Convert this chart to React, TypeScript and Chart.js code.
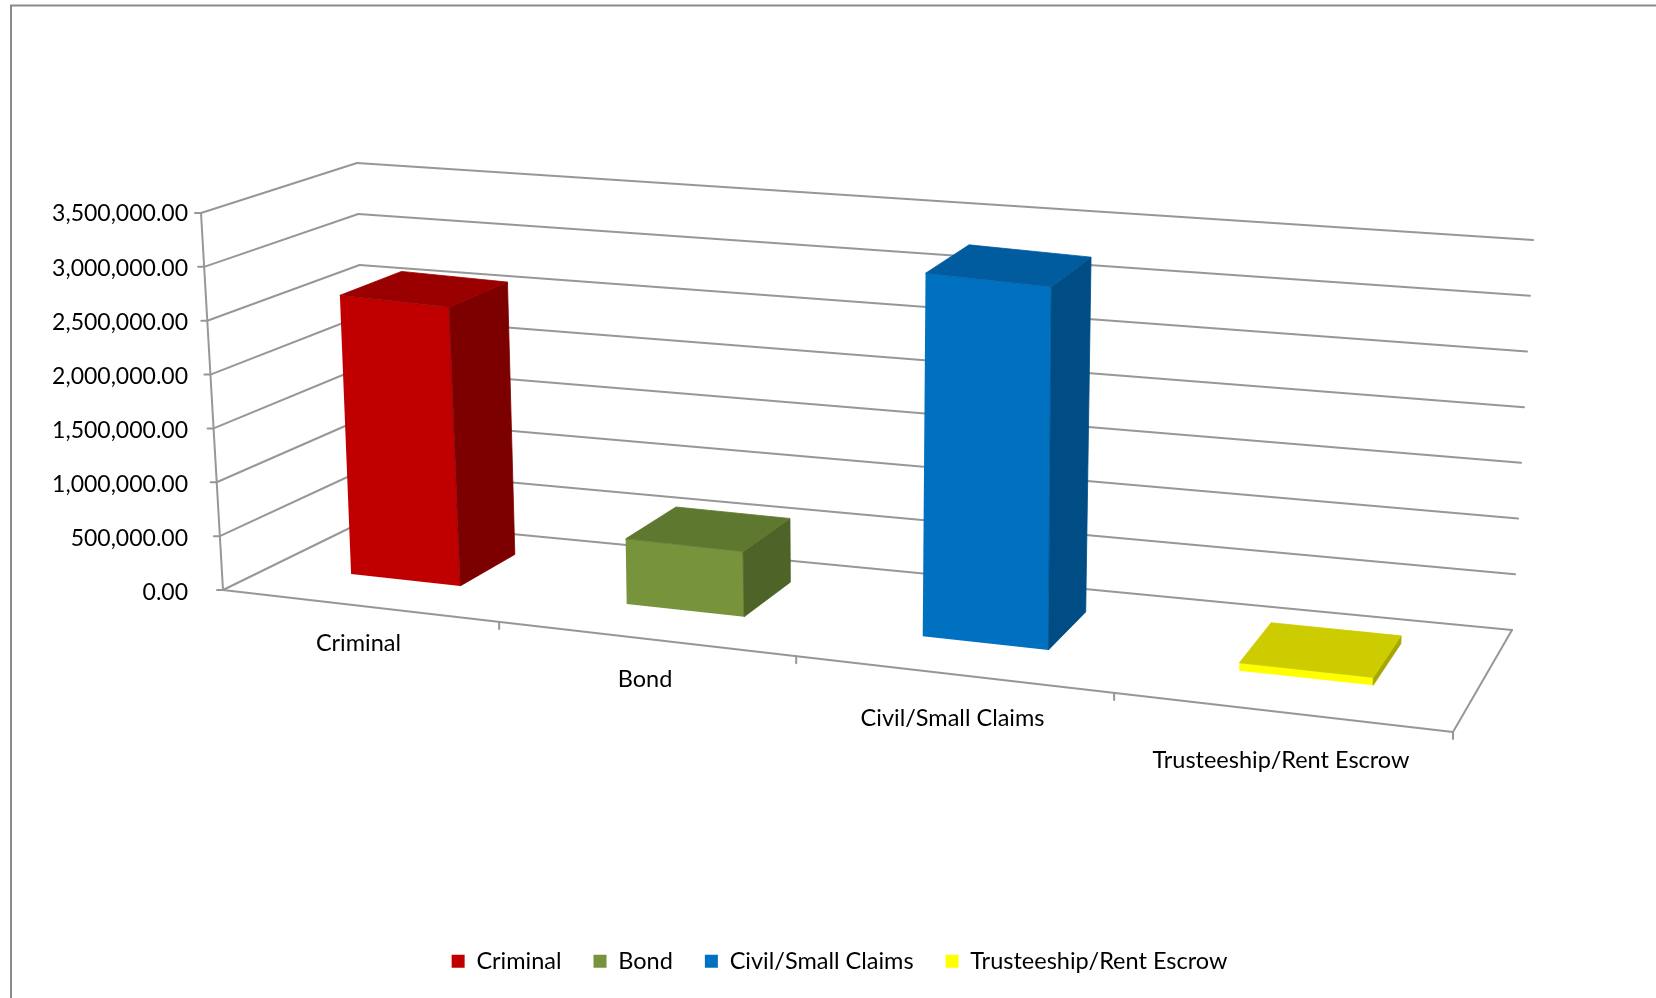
import { useEffect, useRef } from 'react';
import { Chart, registerables } from 'chart.js';

Chart.register(...registerables);

// ---------- data ----------
const categories = ['Criminal', 'Bond', 'Civil/Small Claims', 'Trusteeship/Rent Escrow'];
const values = [2620000, 600000, 3270000, 70000];
const yMin = 0;
const yMax = 3500000;
const yStep = 500000;

// ---------- styles ----------
const frontColors = ['#C00000', '#77933C', '#0070C0', '#FFFF00'];
const topColors = ['#9A0000', '#5F7830', '#005C9E', '#CCCC00'];
const sideColors = ['#7C0000', '#4E6327', '#004C85', '#A6A600'];
const GRID_COLOR = '#979797';
const BORDER_COLOR = '#8a8a8a';
const FONT = 'Lato';

// view geometry of the 3-D plot box (screen px): Front/Back, Left/Right, Bottom/Top
const FLB = [223, 590], FRB = [1453, 732], FLT = [201, 213], FRT = [1473, 320];
const BLB = [366, 520], BRB = [1512, 630], BLT = [357, 163], BRT = [1533, 240];
const WARP = 0.136; // perspective foreshortening along the category axis
const Z_FRONT = 0.35;
const Z_BACK = 0.77;

type P = number[];
const lerp = (a: P, b: P, t: number): P => [a[0] + (b[0] - a[0]) * t, a[1] + (b[1] - a[1]) * t];
function M(t: number, s: number, z: number): P {
  const fb = lerp(FLB, FRB, t), ft = lerp(FLT, FRT, t);
  const bb = lerp(BLB, BRB, t), bt = lerp(BLT, BRT, t);
  return lerp(lerp(fb, ft, s), lerp(bb, bt, s), z);
}
const warp = (t: number) => (1 - WARP) * t + WARP * t * t;

function barAffine(chart: any, el: any, z: number) {
  const xs = chart.scales.x, ys = chart.scales.y;
  const W = xs.right - xs.left;
  const xl = el.x - el.width / 2, xr = el.x + el.width / 2;
  const tl = warp((xl - xs.left) / W), tr = warp((xr - xs.left) / W);
  const yb = ys.getPixelForValue(ys.min), yt = ys.getPixelForValue(ys.max);
  const Pbl = M(tl, 0, z), Pbr = M(tr, 0, z), Ptl = M(tl, 1, z);
  const a = (Pbr[0] - Pbl[0]) / (xr - xl), b = (Pbr[1] - Pbl[1]) / (xr - xl);
  const c = (Ptl[0] - Pbl[0]) / (yt - yb), d = (Ptl[1] - Pbl[1]) / (yt - yb);
  const e = Pbl[0] - a * xl - c * yb, f = Pbl[1] - b * xl - d * yb;
  return [a, b, c, d, e, f];
}
const apply = (T: number[], x: number, y: number): P => [T[0] * x + T[2] * y + T[4], T[1] * x + T[3] * y + T[5]];

const excel3d = {
  id: 'excel3d',
  beforeDraw(chart: any) {
    const ctx = chart.ctx;
    ctx.save();
    ctx.strokeStyle = BORDER_COLOR;
    ctx.lineWidth = 2;
    ctx.strokeRect(11, 5.5, chart.width + 20, chart.height + 20);
    ctx.restore();
  },
  beforeDatasetsDraw(chart: any) {
    const ctx = chart.ctx;
    const ys = chart.scales.y, xs = chart.scales.x;
    const span = ys.max - ys.min;
    ctx.save();
    ctx.strokeStyle = GRID_COLOR;
    ctx.lineWidth = 2;
    ctx.lineCap = 'round';
    const line = (p: P, q: P) => { ctx.beginPath(); ctx.moveTo(p[0], p[1]); ctx.lineTo(q[0], q[1]); ctx.stroke(); };
    ys.ticks.forEach((tk: any) => {
      const s = (tk.value - ys.min) / span;
      line(M(0, s, 0), M(0, s, 1));
      line(M(0, s, 1), M(1, s, 1));
      const p = M(0, s, 0);
      line([p[0] - 6, p[1]], p);
    });
    line(M(0, 0, 0), M(0, 1, 0));
    line(M(0, 0, 0), M(1, 0, 0));
    line(M(1, 0, 0), M(1, 0, 1));
    const n = chart.data.labels.length;
    for (let i = 1; i <= n; i++) {
      const p = M(warp(i / n), 0, 0);
      line(p, [p[0], p[1] + 7]);
    }
    ctx.fillStyle = '#000';
    ctx.font = `23.5px ${FONT}`;
    ctx.textAlign = 'center';
    ctx.textBaseline = 'middle';
    chart.data.labels.forEach((lab: string, i: number) => {
      const tc = (xs.getPixelForValue(i) - xs.left) / (xs.right - xs.left);
      const tl = warp(tc);
      const p = M(tl, 0, 0);
      ctx.fillText(lab, p[0], p[1] + 36 + 14 * tl);
    });
    ctx.restore();
  },
  beforeDatasetDraw(chart: any, args: any) {
    const el = args.meta.data[args.index];
    if (!el) return;
    const T = barAffine(chart, el, Z_FRONT);
    chart.ctx.save();
    chart.ctx.transform(T[0], T[1], T[2], T[3], T[4], T[5]);
  },
  afterDatasetDraw(chart: any, args: any) {
    const el = args.meta.data[args.index];
    if (!el) return;
    const ctx = chart.ctx;
    ctx.restore();
    const F = barAffine(chart, el, Z_FRONT);
    const B = barAffine(chart, el, Z_BACK);
    const xl = el.x - el.width / 2, xr = el.x + el.width / 2;
    const top = el.y, base = el.base;
    const poly = (pts: P[], color: string) => {
      ctx.beginPath();
      ctx.moveTo(pts[0][0], pts[0][1]);
      for (let k = 1; k < pts.length; k++) ctx.lineTo(pts[k][0], pts[k][1]);
      ctx.closePath();
      ctx.fillStyle = color;
      ctx.strokeStyle = color;
      ctx.lineWidth = 0.8;
      ctx.fill();
      ctx.stroke();
    };
    ctx.save();
    poly([apply(F, xr, top), apply(F, xr, base), apply(B, xr, base), apply(B, xr, top)], sideColors[args.index]);
    poly([apply(F, xl, top), apply(F, xr, top), apply(B, xr, top), apply(B, xl, top)], topColors[args.index]);
    ctx.restore();
  },
};

export default function App() {
  const ref = useRef<HTMLCanvasElement>(null);
  useEffect(() => {
    if (!ref.current) return;
    Chart.defaults.font.family = FONT;
    const chart = new Chart(ref.current, {
      type: 'bar',
      data: {
        labels: categories,
        datasets: categories.map((name, i) => ({
          label: name,
          data: categories.map((_, j) => (j === i ? values[i] : null)),
          backgroundColor: frontColors[i],
          borderWidth: 0,
          skipNull: true,
          clip: false,
          categoryPercentage: 0.45,
          barPercentage: 0.9,
        })),
      },
      options: {
        responsive: false,
        animation: false,
        events: [],
        layout: { padding: { top: 214, left: 36, right: 13, bottom: 15 } },
        scales: {
          x: {
            type: 'category',
            grid: { display: false, drawTicks: false },
            border: { display: false },
            ticks: { display: false },
            afterFit: (s: any) => { s.height = 324.5; },
          },
          y: {
            min: yMin,
            max: yMax,
            grid: { display: false, drawTicks: false },
            border: { display: false },
            ticks: {
              stepSize: yStep,
              padding: 34,
              color: '#000',
              font: { family: FONT, size: 23 },
              callback: (v: any) => Number(v).toLocaleString('en-US', { minimumFractionDigits: 2, maximumFractionDigits: 2 }),
            },
            afterFit: (s: any) => { s.width = 186; },
          },
        },
        plugins: {
          tooltip: { enabled: false },
          legend: {
            position: 'bottom',
            labels: {
              boxWidth: 13,
              boxHeight: 13,
              padding: 32,
              color: '#000',
              font: { family: FONT, size: 23.5 },
            },
          },
        },
      },
      plugins: [excel3d],
    } as any);
    return () => chart.destroy();
  }, []);
  return (
    <div style={{ position: 'absolute', left: 0, top: 0, width: 1656, height: 998, background: '#fff' }}>
      <canvas ref={ref} width={1656} height={998} style={{ display: 'block', width: 1656, height: 998 }} />
    </div>
  );
}
